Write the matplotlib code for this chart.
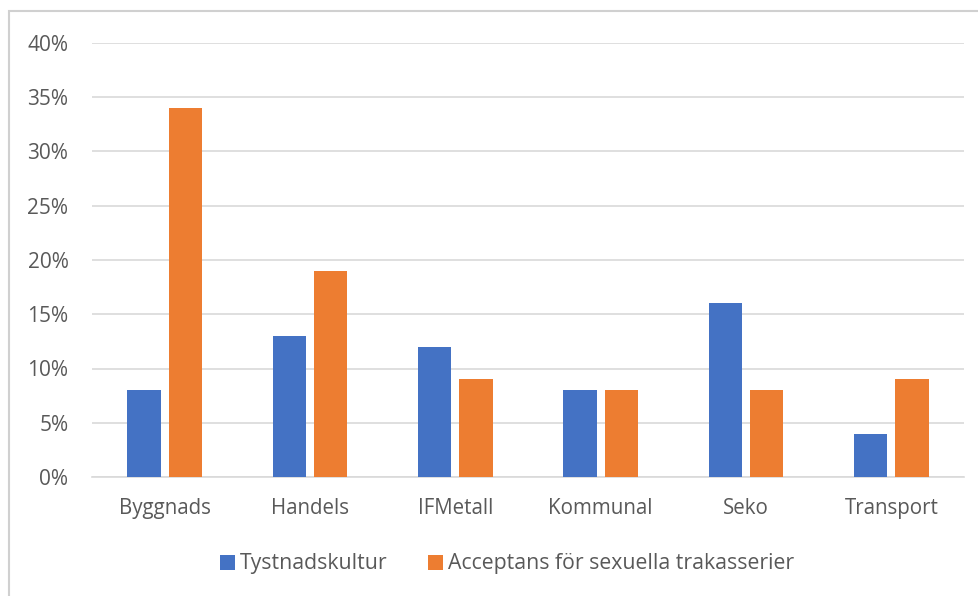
import matplotlib
matplotlib.use("Agg")
import matplotlib.pyplot as plt
import numpy as np
from matplotlib.ticker import PercentFormatter
from matplotlib.patches import Rectangle

categories = ["Byggnads", "Handels", "IFMetall", "Kommunal", "Seko", "Transport"]
tystnad = [8, 13, 12, 8, 16, 4]
acceptans = [34, 19, 9, 8, 8, 9]
series_names = ["Tystnadskultur", "Acceptans för sexuella trakasserier"]

plt.rcParams['font.family'] = ['Open Sans', 'DejaVu Sans']

fig = plt.figure(figsize=(9.79, 5.96), dpi=100)
fig.patch.set_facecolor('white')
# outer border
fig.add_artist(Rectangle((9/979, -0.01), 1.0, 1 - 11/596 + 0.01, transform=fig.transFigure,
                         fill=False, edgecolor='#D0D0D0', linewidth=1.5))

ax = fig.add_axes([92/979, 1 - 477/596, (964 - 92)/979, (477 - 43)/596])
x = np.arange(len(categories))
w = 0.23
off = 0.142
blue = '#4472C4'
orange = '#ED7D31'
ax.bar(x - off, tystnad, w, color=blue, label=series_names[0], zorder=3)
ax.bar(x + off, acceptans, w, color=orange, label=series_names[1], zorder=3)

ax.set_xlim(-0.5, len(categories) - 0.5)
ax.set_ylim(0, 40)
ax.set_yticks(np.arange(0, 41, 5))
ax.yaxis.set_major_formatter(PercentFormatter(decimals=0))
ax.set_xticks(x)
ax.set_xticklabels(categories)
ax.grid(axis='y', color='#D9D9D9', linewidth=1.2, zorder=0)
for s in ['top', 'right', 'left']:
    ax.spines[s].set_visible(False)
ax.spines['bottom'].set_color('#D9D9D9')
ax.spines['bottom'].set_linewidth(1.2)
ax.tick_params(axis='both', length=0, colors='#595959')
ax.tick_params(axis='y', pad=17, labelsize=15)
ax.tick_params(axis='x', pad=15, labelsize=14.8)

leg = fig.legend(loc='center', bbox_to_anchor=(507/979, 1 - 564/596), ncol=2, frameon=False,
                 fontsize=15.3, handlelength=0.7, handleheight=0.7, handletextpad=0.25,
                 columnspacing=1.9)
for t in leg.get_texts():
    t.set_color('#595959')

fig.savefig('out.png', dpi=100, facecolor='white')
